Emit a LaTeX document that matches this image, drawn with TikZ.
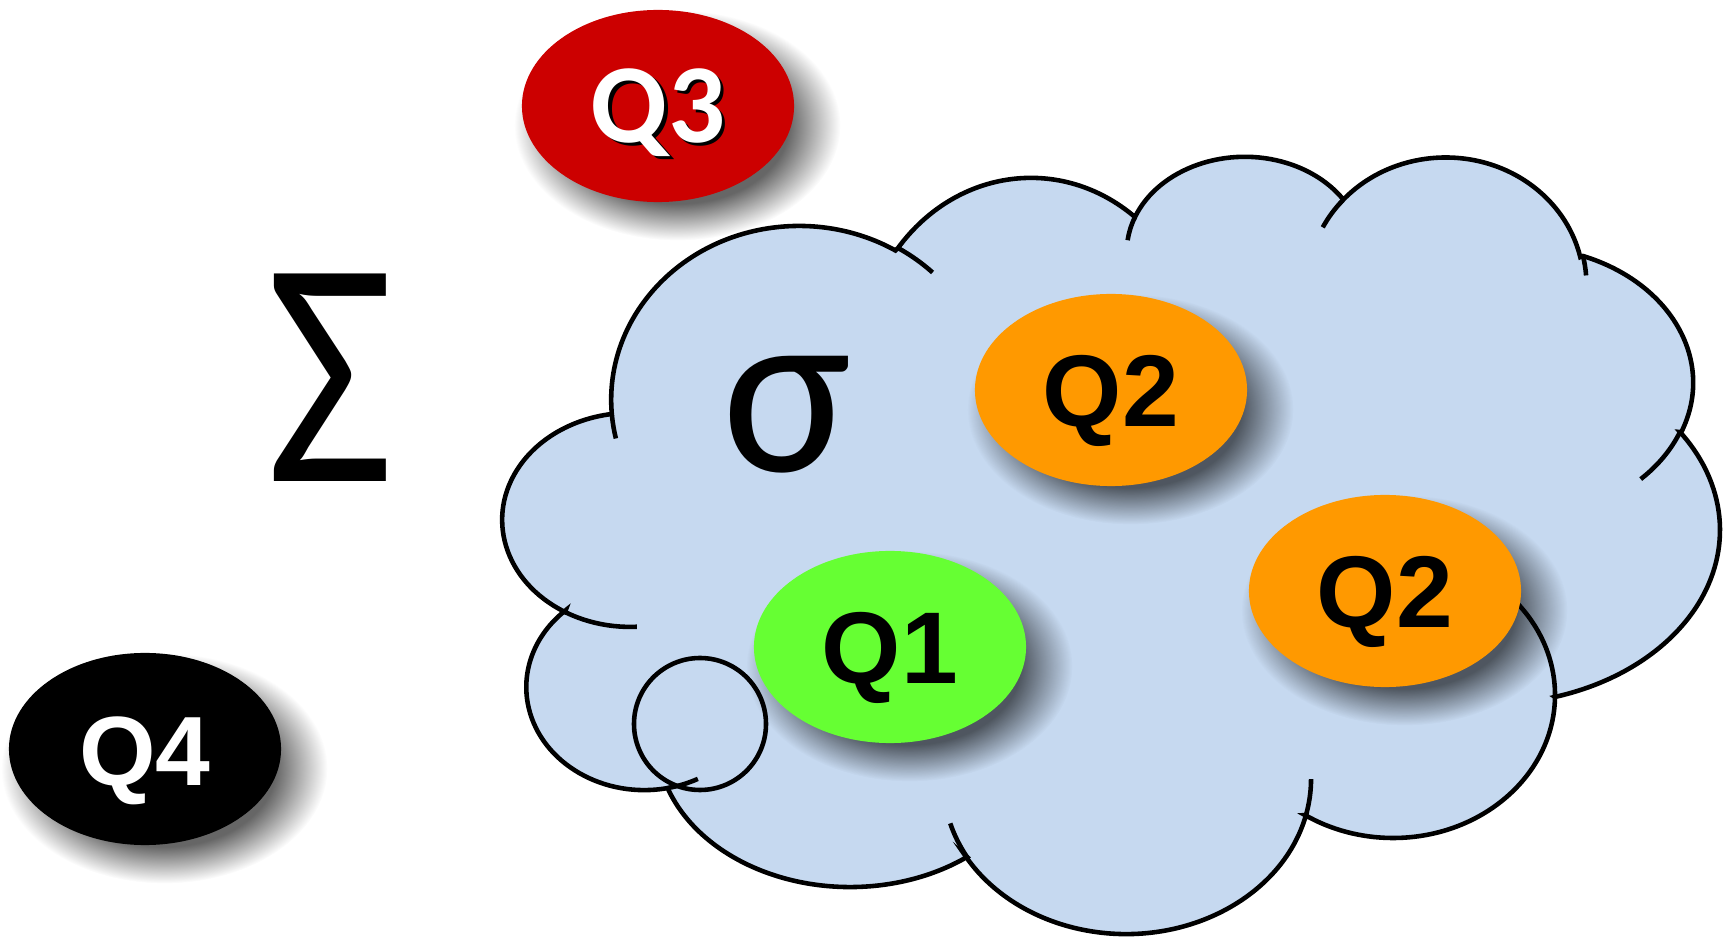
\documentclass[tikz,border=0pt]{standalone}
\usepackage{fontspec}
\newfontfamily\arialfont{Liberation Sans}
\newfontfamily\califont{Carlito}
\usetikzlibrary{shapes.geometric,shadows,fadings}

\definecolor{cloudblue}{HTML}{C6D9F0}
\definecolor{qred}{HTML}{CC0000}
\definecolor{qorange}{HTML}{FF9900}
\definecolor{qgreen}{HTML}{66FF33}

% soft edged disc for the drop shadows
\pgfdeclareradialshading{softdisc}{\pgfpointorigin}{color(0pt)=(pgftransparent!0); color(17pt)=(pgftransparent!0); color(25pt)=(pgftransparent!100); color(50pt)=(pgftransparent!100)}
\pgfdeclarefading{softdisc fade}{\pgfuseshading{softdisc}}

% white label with a small dark drop behind it
\newcommand{\embossed}[1]{\rlap{\kern1pt\raisebox{-1pt}{\color{black}#1}}#1}

\tikzset{
  query/.style={ellipse, minimum width=2.72cm, minimum height=1.92cm, inner sep=0pt,
    text height=20.7pt, text depth=0pt,
    font=\arialfont\bfseries\fontsize{29}{29}\selectfont,
    general shadow={fill=black, opacity=0.6, path fading=softdisc fade,
      shadow scale=1.2, shadow xshift=0.16cm, shadow yshift=-0.16cm}},
  outline/.style={line width=1.3pt, line join=miter},
}

\begin{document}
\begin{tikzpicture}[x=0.01cm, y=-0.01cm]
   \useasboundingbox (0,0) rectangle (1729,937);

   % queries outside the cloud
   \node[query, fill=qred, text=white, font=\califont\bfseries\fontsize{32}{32}\selectfont] (q3) at (658,106) {\embossed{Q3}};
   \node[query, fill=black, text=white, font=\arialfont\bfseries\fontsize{28}{28}\selectfont] (q4) at (145,749) {Q4};

   % where two lobes of the cloud meet
   \coordinate (j1) at (565,612);
   \coordinate (j2) at (612,416);
   \coordinate (j3) at (898,248);
   \coordinate (j4) at (1135,217);
   \coordinate (j5) at (1343,200);
   \coordinate (j6) at (1583,256);
   \coordinate (j7) at (1680,432);
   \coordinate (j8) at (1555,697);
   \coordinate (j9) at (1306,815);
   \coordinate (j10) at (967,857);
   \coordinate (j11) at (668,788);

   % the cloud, one arc per lobe, clockwise from the left
   \filldraw[outline, fill=cloudblue]
     (j1) arc[start angle=120.6, end angle=261.7, x radius=128, y radius=107] -- (j2)
     arc[start angle=174.7, end angle=300.8, x radius=188, y radius=174] -- (j3)
     arc[start angle=219.4, end angle=307.2, x radius=172, y radius=192] -- (j4)
     arc[start angle=201.5, end angle=326.6, x radius=118, y radius=95] -- (j5)
     arc[start angle=221.9, end angle=347.2, x radius=138, y radius=128] -- (j6)
     arc[start angle=291.3, end angle=381.3, x radius=173, y radius=136] -- (j7)
     arc[start angle=325.7, end angle=433.6, x radius=230, y radius=174] -- (j8)
     arc[start angle=0.8, end angle=122.9, x radius=162, y radius=143] -- (j9)
     arc[start angle=13.4, end angle=150.6, x radius=185, y radius=155] -- (j10)
     arc[start angle=52.7, end angle=160.9, x radius=193, y radius=147] -- (j11)
     arc[start angle=78.4, end angle=228.2, x radius=118, y radius=103] -- cycle;

   % inner ends of the lobes
   \draw[outline] (j1) arc[start angle=120.6, end angle=87, x radius=128, y radius=107];
   \draw[outline] (j2) arc[start angle=174.7, end angle=167.2, x radius=188, y radius=174];
   \draw[outline] (j3) arc[start angle=300.8, end angle=314.1, x radius=188, y radius=174];
   \draw[outline] (j4) arc[start angle=201.5, end angle=187, x radius=118, y radius=95];
   \draw[outline] (j5) arc[start angle=221.9, end angle=207, x radius=138, y radius=128];
   \draw[outline] (j6) arc[start angle=347.2, end angle=356, x radius=138, y radius=128];
   \draw[outline] (j7) arc[start angle=381.3, end angle=405.2, x radius=173, y radius=136];
   \draw[outline] (j8) arc[start angle=0.8, end angle=-40, x radius=162, y radius=143];
   \draw[outline] (j9) arc[start angle=13.4, end angle=0, x radius=185, y radius=155];
   \draw[outline] (j10) arc[start angle=150.6, end angle=164.1, x radius=185, y radius=155];
   \draw[outline] (j11) arc[start angle=78.4, end angle=63, x radius=118, y radius=103];

   \draw[outline] (700,724) circle[radius=66];

   % the two sigmas
   \node[font=\califont\fontsize{92}{92}\selectfont, xscale=0.86, inner sep=0pt] (sum) at (330,378) {Σ};
   \node[font=\califont\fontsize{69}{69}\selectfont, inner sep=0pt] (sigma) at (787,415) {σ};

   % queries inside the cloud
   \node[query, fill=qorange] (q2a) at (1111,390) {Q2};
   \node[query, fill=qorange] (q2b) at (1385,591) {Q2};
   \node[query, fill=qgreen] (q1) at (890,647) {Q1};
\end{tikzpicture}
\end{document}
